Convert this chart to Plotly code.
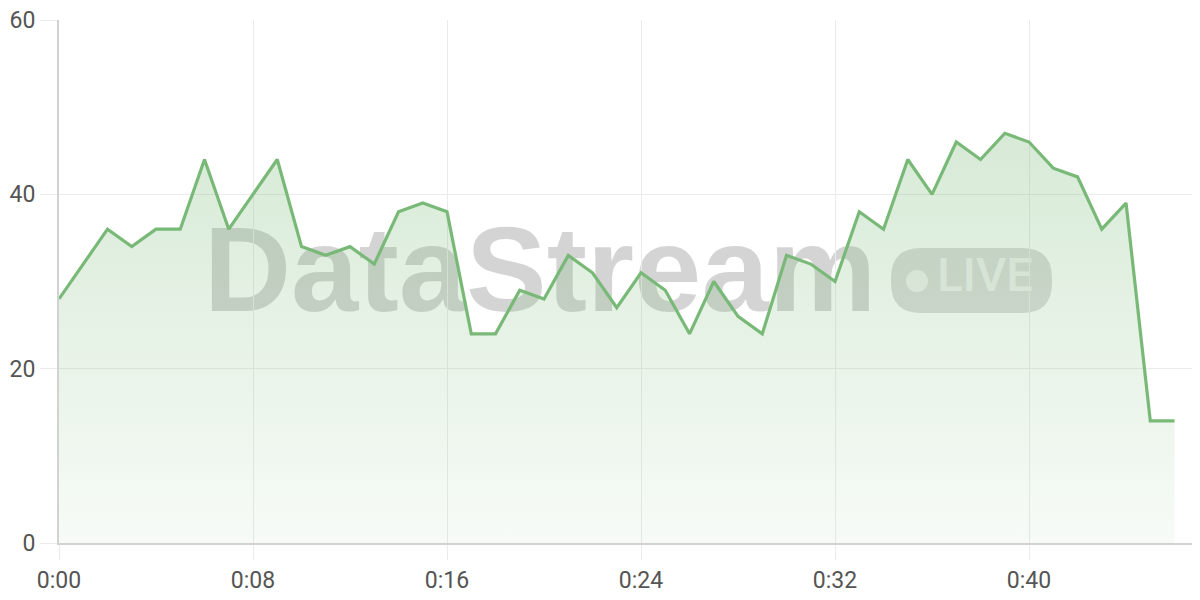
import plotly.graph_objects as go

# minute index and value at each minute
minutes = list(range(47))
values = [28, 32, 36, 34, 36, 36, 44, 36, 40, 44,
          34, 33, 34, 32, 38, 39, 38, 24, 24, 29,
          28, 33, 31, 27, 31, 29, 24, 30, 26, 24,
          33, 32, 30, 38, 36, 44, 40, 46, 44, 47,
          46, 43, 42, 36, 39, 14, 14]

x_tickvals = [0, 8, 16, 24, 32, 40]
x_ticktext = ["0:00", "0:08", "0:16", "0:24", "0:32", "0:40"]
y_tickvals = [0, 20, 40, 60]

LINE = "#79b977"
GRID = "#ebebeb"
AXIS = "#d2d2d2"

# page body has an 8px margin, so the figure is a bit smaller than the window
OFF = 8
L, T, B, W, H = 59, 20, 57, 1141, 523


def px(x):
    return (x - L) / W


def py(y):
    return (600 - B - y) / H


fig = go.Figure()

# gradient area under the line
fig.add_trace(go.Scatter(
    x=minutes, y=values, mode="lines", fill="tozeroy",
    line=dict(width=0, color=LINE),
    fillgradient=dict(type="vertical",
                      colorscale=[[0, "rgba(121,185,119,0.06)"],
                                  [1, "rgba(121,185,119,0.30)"]]),
    hoverinfo="skip", showlegend=False,
))
fig.add_trace(go.Scatter(
    x=minutes, y=values, mode="lines",
    line=dict(width=3.2, color=LINE),
    showlegend=False,
))

# watermark, drawn under the traces
fig.add_shape(type="rect", xref="paper", yref="paper",
              x0=px(240), x1=px(840), y0=py(288), y1=py(228),
              line=dict(width=0), fillcolor="rgba(0,0,0,0)", layer="between",
              label=dict(text="DataStream", textposition="middle center",
                         font=dict(family="Liberation Sans", size=121, weight="bold",
                                   color="rgba(0,0,0,0.17)")))
w, h, r = 161, 65, 30
pill = (f"M {r},0 L {w - r},0 Q {w},0 {w},{r} L {w},{h - r} Q {w},{h} {w - r},{h} "
        f"L {r},{h} Q 0,{h} 0,{h - r} L 0,{r} Q 0,0 {r},0 Z")
fig.add_shape(type="path", xref="paper", yref="paper",
              xsizemode="pixel", ysizemode="pixel",
              xanchor=px(891), yanchor=py(313),
              path=pill, line=dict(width=0), fillcolor="rgba(0,0,0,0.14)",
              layer="between")
fig.add_shape(type="circle", xref="paper", yref="paper",
              xsizemode="pixel", ysizemode="pixel",
              xanchor=px(917), yanchor=py(281),
              x0=-11, x1=11, y0=-11, y1=11,
              line=dict(width=0), fillcolor="rgba(255,255,255,0.62)",
              layer="between")
fig.add_shape(type="rect", xref="paper", yref="paper",
              x0=px(936), x1=px(1034), y0=py(300), y1=py(242),
              line=dict(width=0), fillcolor="rgba(0,0,0,0)", layer="between",
              label=dict(text="LIVE", textposition="middle center",
                         font=dict(family="Roboto", size=47, weight=500,
                                   color="rgba(255,255,255,0.62)")))

fig.update_layout(
    width=1200 - OFF, height=600 - OFF,
    margin=dict(l=L - OFF, r=0, t=T - OFF, b=B),
    paper_bgcolor="white", plot_bgcolor="white",
    font=dict(family="Roboto", size=23, color="#555555"),
    hovermode="x",
)
fig.update_xaxes(
    range=[0, 47.05], tickvals=x_tickvals, ticktext=x_ticktext,
    showgrid=True, gridcolor=GRID, gridwidth=1.3,
    showline=True, linecolor=AXIS, linewidth=2,
    ticks="outside", ticklen=15, tickcolor=GRID, tickwidth=1.3,
    zeroline=False, automargin=False, ticklabeloverflow="allow",
)
fig.update_yaxes(
    range=[0, 60], tickvals=y_tickvals,
    showgrid=True, gridcolor=GRID, gridwidth=1.3,
    showline=True, linecolor=AXIS, linewidth=2,
    ticks="outside", ticklen=17, tickcolor=GRID, tickwidth=1.3,
    zeroline=False, automargin=False, ticklabeloverflow="allow",
)

fig.write_html("out.html")
